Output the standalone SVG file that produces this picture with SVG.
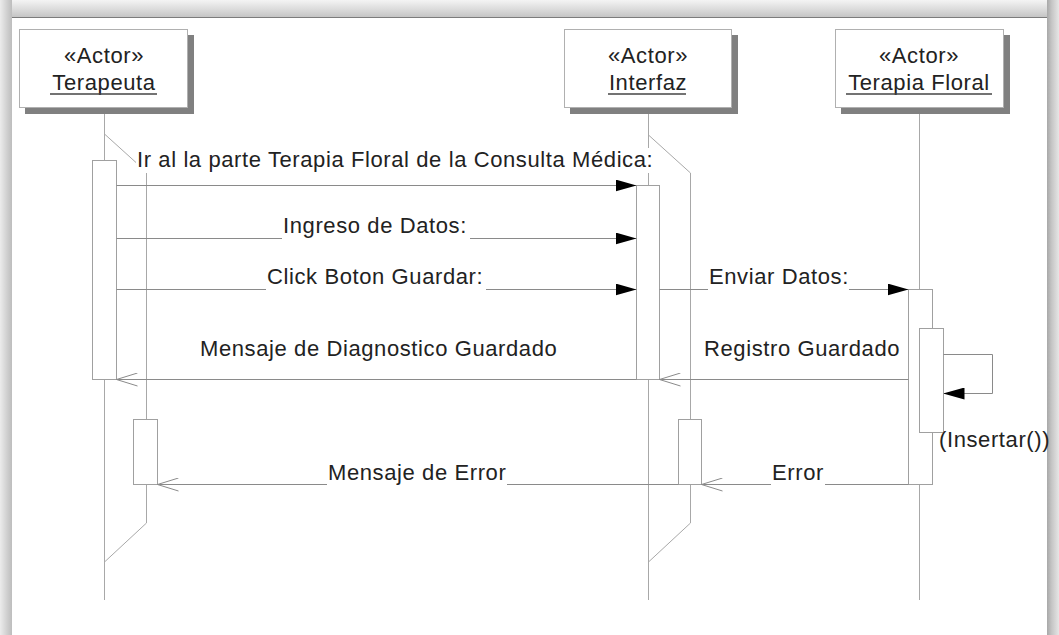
<svg xmlns="http://www.w3.org/2000/svg" width="1059" height="635" viewBox="0 0 1059 635">
  <defs>
    <linearGradient id="gTop" x1="0" y1="0" x2="0" y2="1">
      <stop offset="0" stop-color="#f4f4f4"/>
      <stop offset="0.5" stop-color="#dcdcdc"/>
      <stop offset="1" stop-color="#c2c2c2"/>
    </linearGradient>
    <linearGradient id="gLeft" x1="0" y1="0" x2="1" y2="0">
      <stop offset="0" stop-color="#ececec"/>
      <stop offset="0.6" stop-color="#cfcfcf"/>
      <stop offset="1" stop-color="#bdbdbd"/>
    </linearGradient>
    <linearGradient id="gRight" x1="0" y1="0" x2="1" y2="0">
      <stop offset="0" stop-color="#a8a8a8"/>
      <stop offset="0.4" stop-color="#c6c6c6"/>
      <stop offset="1" stop-color="#e6e6e6"/>
    </linearGradient>
    <marker id="filled" viewBox="0 0 21 12" refX="21" refY="6" markerWidth="21" markerHeight="12" markerUnits="userSpaceOnUse" orient="auto">
      <path d="M0,0 L21,6 L0,12 Z" fill="#000"/>
    </marker>
    <marker id="open" viewBox="0 0 22 14" refX="21" refY="7" markerWidth="22" markerHeight="14" markerUnits="userSpaceOnUse" orient="auto">
      <path d="M0,0.5 L21,7 L0,13.5" fill="none" stroke="#8a8a8a" stroke-width="1"/>
    </marker>
  </defs>
  <style>
    .lbl { font-family: "Liberation Sans", Arial, sans-serif; font-size: 22px; letter-spacing: 0.6px; fill: #222; }
    .ctr { text-anchor: middle; }
    .box { fill: #fff; stroke: #b0b0b0; stroke-width: 1; }
    .shadow { fill: #808080; }
    .life { fill: none; stroke: #a8a8a8; stroke-width: 1; }
    .act { fill: #fff; stroke: #a0a0a0; stroke-width: 1; }
    .msg { fill: none; stroke: #8a8a8a; stroke-width: 1; }
    .bg { fill: #fff; }
    .ul { stroke: #444; stroke-width: 1.5; }
  </style>

  <rect x="0" y="0" width="1059" height="635" fill="#fff"/>

  <!-- frame -->
  <g id="frame">
    <rect x="0" y="0" width="1059" height="18" fill="url(#gTop)"/>
    <rect x="0" y="0" width="12" height="635" fill="url(#gLeft)"/>
    <rect x="1047" y="0" width="12" height="635" fill="url(#gRight)"/>
    <line x1="12" y1="17.5" x2="1047" y2="17.5" stroke="#7c7c7c" stroke-width="1"/>
  </g>

  <!-- Terapeuta -->
  <g id="terapeuta">
    <line class="life" x1="104.5" y1="108" x2="104.5" y2="600"/>
    <polyline class="life" points="104.5,134 146.5,172 146.5,523 104.5,562"/>
    <rect class="shadow" x="25" y="35" width="169" height="79"/>
    <rect class="box" x="19.5" y="29.5" width="168" height="78"/>
    <text class="lbl ctr" x="104" y="63">«Actor»</text>
    <text class="lbl ctr" x="104" y="90">Terapeuta</text>
    <line class="ul" x1="50" y1="94" x2="157" y2="94"/>
    <rect class="act" x="92.5" y="160.5" width="24" height="219"/>
    <rect class="act" x="133.5" y="419.5" width="24" height="65"/>
  </g>

  <!-- Interfaz -->
  <g id="interfaz">
    <line class="life" x1="648.5" y1="108" x2="648.5" y2="600"/>
    <polyline class="life" points="648.5,135 690.5,173 690.5,523 648.5,562"/>
    <rect class="shadow" x="570" y="35" width="168" height="79"/>
    <rect class="box" x="564.5" y="29.5" width="167" height="78"/>
    <text class="lbl ctr" x="648" y="63">«Actor»</text>
    <text class="lbl ctr" x="648" y="90">Interfaz</text>
    <line class="ul" x1="608" y1="94" x2="686" y2="94"/>
    <rect class="act" x="636.5" y="185.5" width="23" height="194"/>
    <rect class="act" x="678.5" y="419.5" width="23" height="65"/>
  </g>

  <!-- Terapia Floral -->
  <g id="terapia-floral">
    <line class="life" x1="919.5" y1="108" x2="919.5" y2="600"/>
    <rect class="shadow" x="841" y="35" width="169" height="79"/>
    <rect class="box" x="835.5" y="29.5" width="168" height="78"/>
    <text class="lbl ctr" x="919" y="63">«Actor»</text>
    <text class="lbl ctr" x="919" y="90">Terapia Floral</text>
    <line class="ul" x1="846" y1="94" x2="992" y2="94"/>
    <rect class="act" x="908.5" y="289.5" width="24" height="195"/>
    <rect class="act" x="919.5" y="328.5" width="24" height="104"/>
  </g>

  <!-- connectors -->
  <g id="connectors">
    <line class="msg" x1="116.5" y1="185.5" x2="636.5" y2="185.5" marker-end="url(#filled)"/>
    <line class="msg" x1="116.5" y1="238.5" x2="636.5" y2="238.5" marker-end="url(#filled)"/>
    <line class="msg" x1="116.5" y1="289.5" x2="636.5" y2="289.5" marker-end="url(#filled)"/>
    <line class="msg" x1="659.5" y1="289.5" x2="908.5" y2="289.5" marker-end="url(#filled)"/>
    <line class="msg" x1="636.5" y1="379.5" x2="116.5" y2="379.5" marker-end="url(#open)"/>
    <line class="msg" x1="908.5" y1="379.5" x2="659.5" y2="379.5" marker-end="url(#open)"/>
    <polyline class="msg" points="943.5,354.5 992.5,354.5 992.5,393.5 943.5,393.5" marker-end="url(#filled)"/>
    <line class="msg" x1="678.5" y1="484.5" x2="157.5" y2="484.5" marker-end="url(#open)"/>
    <line class="msg" x1="908.5" y1="484.5" x2="701.5" y2="484.5" marker-end="url(#open)"/>
  </g>

  <!-- message labels -->
  <g id="labels">
    <rect class="bg" x="136" y="148" width="523" height="25"/>
    <text class="lbl" x="137" y="167">Ir al la parte Terapia Floral de la Consulta Médica:</text>
    <rect class="bg" x="282" y="214" width="188" height="25.5"/>
    <text class="lbl" x="283" y="233">Ingreso de Datos:</text>
    <rect class="bg" x="266" y="265" width="220" height="25.5"/>
    <text class="lbl" x="267" y="284">Click Boton Guardar:</text>
    <rect class="bg" x="708" y="265" width="141" height="25.5"/>
    <text class="lbl" x="709" y="284">Enviar Datos:</text>
    <text class="lbl" x="200" y="356">Mensaje de Diagnostico Guardado</text>
    <rect class="bg" x="703" y="337" width="203" height="25"/>
    <text class="lbl" x="704" y="356">Registro Guardado</text>
    <rect class="bg" x="327" y="461" width="180" height="24.5"/>
    <text class="lbl" x="328" y="480">Mensaje de Error</text>
    <rect class="bg" x="771" y="461" width="54" height="24.5"/>
    <text class="lbl" x="772" y="480">Error</text>
    <rect class="bg" x="938" y="433" width="109" height="21"/>
    <text class="lbl" x="939" y="447">(Insertar())</text>
  </g>
</svg>
